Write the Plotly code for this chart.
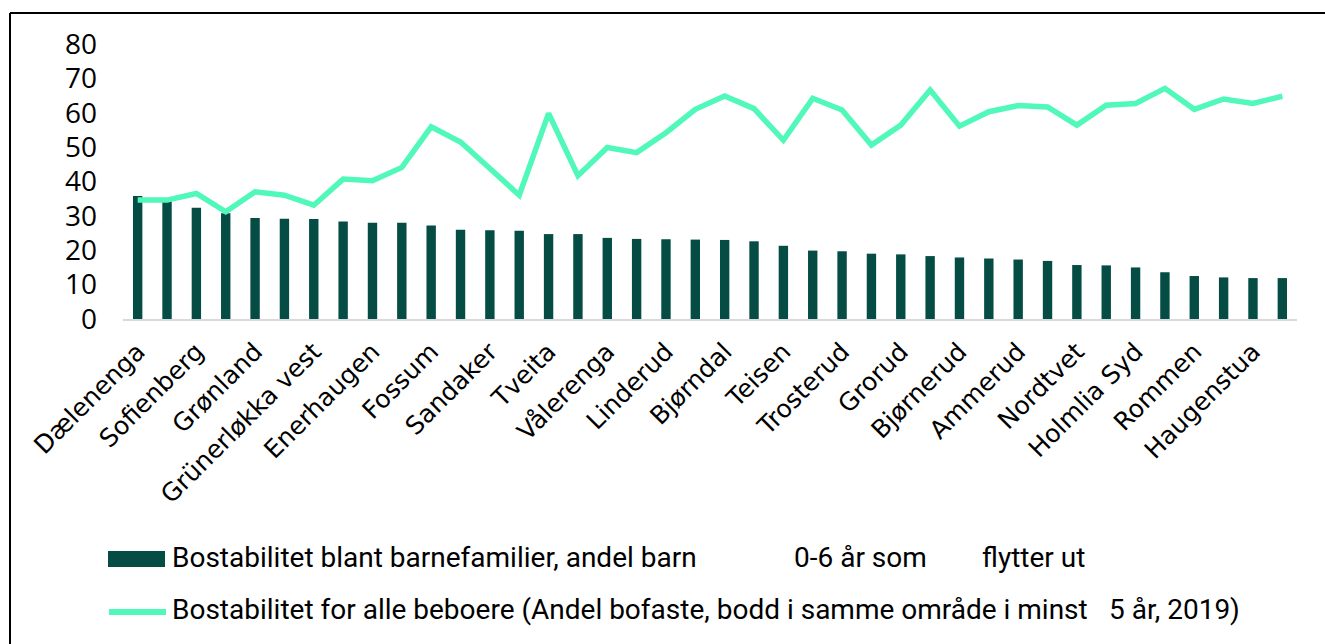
import plotly.graph_objects as go

# ---- data ----
labels = ["Dælenenga", "Sofienberg", "Grønland", "Grünerløkka vest", "Enerhaugen",
          "Fossum", "Sandaker", "Tveita", "Vålerenga", "Linderud", "Bjørndal",
          "Teisen", "Trosterud", "Grorud", "Bjørnerud", "Ammerud", "Nordtvet",
          "Holmlia Syd", "Rommen", "Haugenstua"]

bar_values = [35.8, 35.0, 32.4, 30.8, 29.4, 29.2, 29.1, 28.4, 28.0, 28.0,
              27.2, 26.0, 25.8, 25.7, 24.7, 24.7, 23.6, 23.3, 23.2, 23.1,
              23.0, 22.6, 21.3, 19.9, 19.7, 19.0, 18.8, 18.3, 17.9, 17.6,
              17.3, 16.9, 15.7, 15.6, 15.0, 13.6, 12.5, 12.1, 11.9, 11.9]

line_values = [34.6, 34.6, 36.5, 31.2, 37.0, 36.0, 33.1, 40.7, 40.2, 44.1,
               55.9, 51.5, 43.8, 36.0, 59.8, 41.7, 49.9, 48.4, 54.2, 61.0,
               64.9, 61.2, 52.0, 64.2, 60.8, 50.6, 56.4, 66.6, 56.1, 60.3,
               62.1, 61.7, 56.4, 62.2, 62.7, 67.1, 61.0, 64.0, 62.7, 64.8]

bar_name = "Bostabilitet blant barnefamilier, andel barn"
bar_name_parts = ["0-6 år som", "flytter ut"]
line_name = "Bostabilitet for alle beboere (Andel bofaste, bodd i samme område i minst"
line_name_part = "5 år, 2019)"

y_ticks = [0, 10, 20, 30, 40, 50, 60, 70, 80]

# ---- style ----
BAR_COLOR = "#044C44"
LINE_COLOR = "#50F8BA"
W, H = 1325, 644
ML, MR, MT, MB = 123, 28, 44, 325
PW, PH = W - ML - MR, H - MT - MB


def px_x(p):
    return (p - ML) / PW


def px_y(p):
    return (H - MB - p) / PH


x_idx = list(range(len(bar_values)))
tick_idx = x_idx[::2]

fig = go.Figure()
fig.add_trace(go.Bar(x=x_idx, y=bar_values, width=0.32,
                     marker=dict(color=BAR_COLOR, line=dict(width=0)),
                     name=bar_name, showlegend=False))
fig.add_trace(go.Scatter(x=x_idx, y=line_values, mode="lines",
                         line=dict(color=LINE_COLOR, width=5.5),
                         name=line_name, showlegend=False))

fig.update_layout(
    width=W, height=H,
    margin=dict(l=ML, r=MR, t=MT, b=MB),
    paper_bgcolor="white", plot_bgcolor="white",
    showlegend=False,
    xaxis=dict(range=[-0.5, len(bar_values) - 0.5], tickmode="array",
               tickvals=tick_idx, ticktext=labels, tickangle=-45,
               showgrid=False, showline=True, linecolor="#D9D9D9", linewidth=2,
               ticks="", zeroline=False, ticklabelstandoff=6,
               tickfont=dict(family="DejaVu Sans", size=25, color="black")),
    yaxis=dict(range=[0, 80], tickmode="array", tickvals=y_ticks,
               showgrid=False, showline=False, zeroline=False, ticks="",
               ticklabelstandoff=25,
               tickfont=dict(family="Open Sans", size=28, color="black")),
)

shapes = [
    # outer frame (left and top edges)
    dict(type="line", xref="paper", yref="paper", x0=px_x(10), x1=px_x(10),
         y0=px_y(13), y1=px_y(H + 5), line=dict(color="black", width=2)),
    dict(type="line", xref="paper", yref="paper", x0=px_x(10), x1=px_x(W + 5),
         y0=px_y(13), y1=px_y(13), line=dict(color="black", width=2)),
    # legend swatches
    dict(type="rect", xref="paper", yref="paper", x0=px_x(108), x1=px_x(165),
         y0=px_y(551), y1=px_y(567), fillcolor=BAR_COLOR, line=dict(width=0)),
    dict(type="line", xref="paper", yref="paper", x0=px_x(109), x1=px_x(166),
         y0=px_y(612), y1=px_y(612), line=dict(color=LINE_COLOR, width=6)),
]

leg_font = dict(family="Roboto, sans-serif", size=28, color="black")
annotations = [
    dict(text=bar_name, x=px_x(170), y=px_y(557)),
    dict(text=bar_name_parts[0], x=px_x(792), y=px_y(557)),
    dict(text=bar_name_parts[1], x=px_x(980), y=px_y(557)),
    dict(text=line_name, x=px_x(170), y=px_y(609)),
    dict(text=line_name_part, x=px_x(1107), y=px_y(609)),
]
for a in annotations:
    a.update(xref="paper", yref="paper", xanchor="left", yanchor="middle",
             showarrow=False, font=leg_font)

fig.update_layout(shapes=shapes, annotations=annotations)
fig.write_html("out.html",
               config={"displayModeBar": False},
               post_script="document.body.style.margin='0';"
                           "document.body.style.overflow='hidden';")
